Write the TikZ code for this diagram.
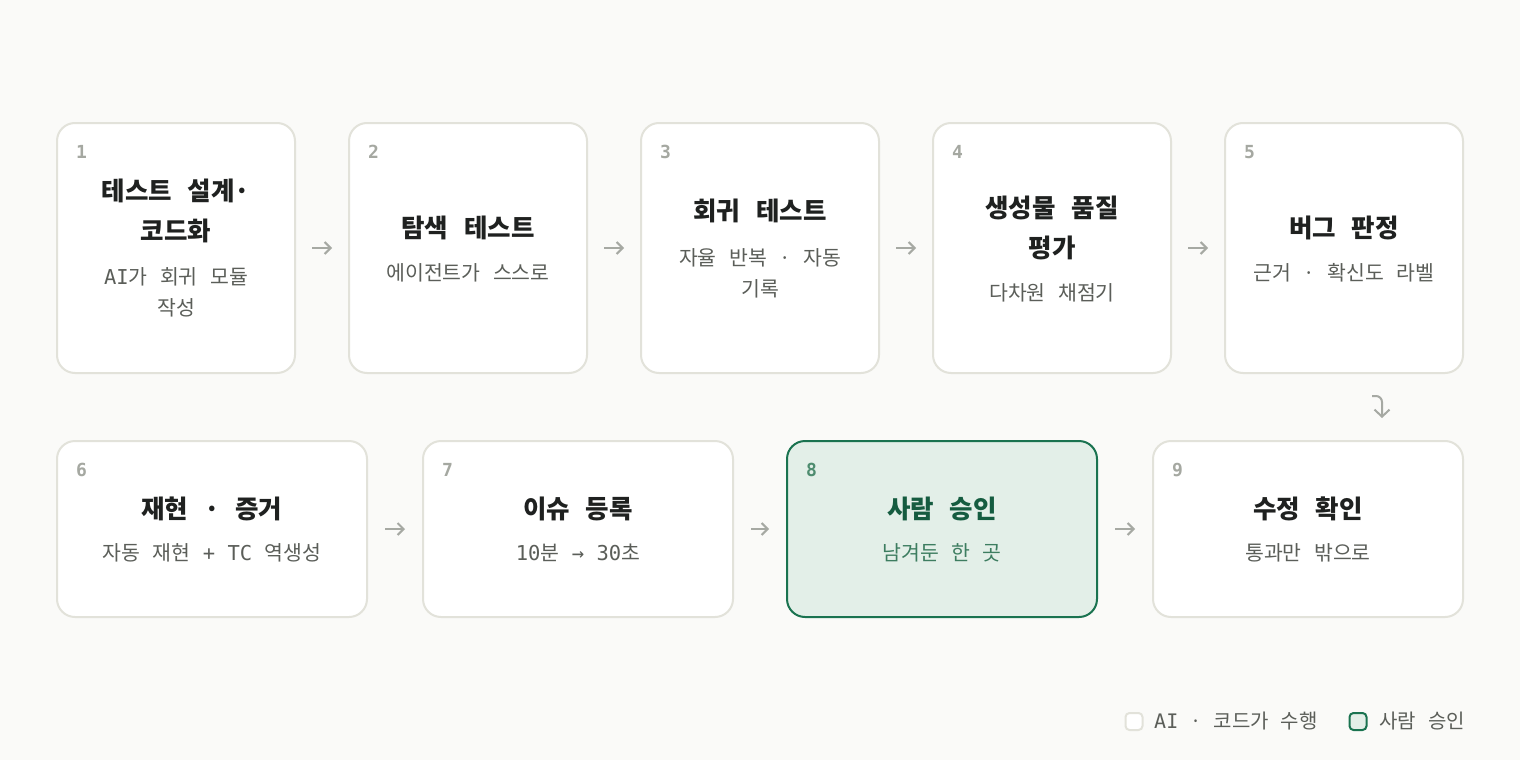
\documentclass[tikz,border=0pt]{standalone}
\usepackage{fontspec}
\setmainfont{Noto Sans CJK KR}[WordSpace=2.7]
\newfontfamily\mono{DejaVu Sans Mono}
\usetikzlibrary{arrows.meta}
\definecolor{cbg}{HTML}{FAFAF8}
\definecolor{cborder}{HTML}{E2E2DA}
\definecolor{ctitle}{HTML}{1F2120}
\definecolor{csub}{HTML}{5B5E59}
\definecolor{cnum}{HTML}{A5A8A1}
\definecolor{carrow}{HTML}{A6A9A3}
\definecolor{gborder}{HTML}{1A7350}
\definecolor{gfill}{HTML}{E3EFE8}
\definecolor{gtitle}{HTML}{155C40}
\definecolor{gsub}{HTML}{3D7D60}
\definecolor{gnum}{HTML}{4E8C6F}
\tikzset{
  box/.style={draw=cborder, line width=2pt, fill=white, rounded corners=18pt, inner sep=0pt},
  boxA/.style={box, minimum width=238pt, minimum height=250pt},
  boxB/.style={box, minimum width=310pt, minimum height=176pt},
  human/.style={draw=gborder, fill=gfill},
  ttl/.style={font=\fontsize{25.5}{30}\selectfont\bfseries, text=ctitle, anchor=base, inner sep=0pt},
  sub/.style={font=\fontsize{20.5}{24}\selectfont, text=csub, anchor=base, inner sep=0pt},
  num/.style={font=\mono\bfseries\fontsize{18}{22}\selectfont, text=cnum, anchor=base west, inner sep=0pt},
  flow/.style={draw=carrow, line width=2pt, -{Straight Barb[length=6pt,width=12pt]}},
  legsq/.style={draw=cborder, line width=2pt, fill=white, rounded corners=4pt, minimum width=17pt, minimum height=17pt, inner sep=0pt},
  legtxt/.style={font=\fontsize{20}{24}\selectfont, text=csub, anchor=base west, inner sep=0pt}
}
\begin{document}
\begin{tikzpicture}[x=1pt, y=-1pt]
\useasboundingbox[fill=cbg] (0,0) rectangle (1520,760);

% row 1 boxes
\node[boxA] (b1) at (176,248) {};
\node[boxA] (b2) at (468,248) {};
\node[boxA] (b3) at (760,248) {};
\node[boxA] (b4) at (1052,248) {};
\node[boxA] (b5) at (1344,248) {};
% row 2 boxes
\node[boxB] (b6) at (212,529) {};
\node[boxB] (b7) at (578,529) {};
\node[boxB, human] (b8) at (942,529) {};
\node[boxB] (b9) at (1308,529) {};

% numbers
\node[num] (n1) at (76,158) {1};
\node[num] (n2) at (368,158) {2};
\node[num] (n3) at (660,158) {3};
\node[num] (n4) at (952,158) {4};
\node[num] (n5) at (1244,158) {5};
\node[num] (n6) at (76,476) {6};
\node[num] (n7) at (442,476) {7};
\node[num, text=gnum] (n8) at (806,476) {8};
\node[num] (n9) at (1172,476) {9};

% box 1
\node[ttl] (t1a) at (176,200) {테스트 설계·};
\node[ttl] (t1b) at (176,240) {코드화};
\node[sub] (s1a) at (176,284) {{\mono AI}가 회귀 모듈};
\node[sub] (s1b) at (176,315) {작성};
% box 2
\node[ttl] (t2) at (468,237) {탐색 테스트};
\node[sub] (s2) at (468,280) {에이전트가 스스로};
% box 3
\node[ttl] (t3) at (760,220) {회귀 테스트};
\node[sub] (s3a) at (760,265) {자율 반복 · 자동};
\node[sub] (s3b) at (760,296) {기록};
% box 4
\node[ttl] (t4a) at (1052,217) {생성물 품질};
\node[ttl] (t4b) at (1052,257) {평가};
\node[sub] (s4) at (1052,300) {다차원 채점기};
% box 5
\node[ttl] (t5) at (1344,237) {버그 판정};
\node[sub] (s5) at (1344,280) {근거 · 확신도 라벨};
% box 6
\node[ttl] (t6) at (212,518) {재현 · 증거};
\node[sub] (s6) at (212,560) {자동 재현 {\mono +} {\mono TC} 역생성};
% box 7
\node[ttl] (t7) at (578,518) {이슈 등록};
\node[sub] (s7) at (578,560) {{\mono 10}분 {\mono →} {\mono 30}초};
% box 8
\node[ttl, text=gtitle] (t8) at (942,518) {사람 승인};
\node[sub, text=gsub] (s8) at (942,560) {남겨둔 한 곳};
% box 9
\node[ttl] (t9) at (1308,518) {수정 확인};
\node[sub] (s9) at (1308,560) {통과만 밖으로};

% connectors row 1
\draw[flow, shorten <=16pt, shorten >=16pt] (b1.east) -- (b2.west);
\draw[flow, shorten <=16pt, shorten >=16pt] (b2.east) -- (b3.west);
\draw[flow, shorten <=16pt, shorten >=16pt] (b3.east) -- (b4.west);
\draw[flow, shorten <=16pt, shorten >=16pt] (b4.east) -- (b5.west);
% turn down
\coordinate (hk) at (1372,396);
\coordinate (hkend) at (1382,418);
\draw[flow, -{Straight Barb[length=7pt,width=15pt]}] (hk) -- ++(4,0) arc[start angle=-90, end angle=0, radius=6] -- (hkend);
% connectors row 2
\draw[flow, shorten <=17pt, shorten >=17pt] (b6.east) -- (b7.west);
\draw[flow, shorten <=17pt, shorten >=17pt] (b7.east) -- (b8.west);
\draw[flow, shorten <=17pt, shorten >=17pt] (b8.east) -- (b9.west);

% legend
\node[legsq] (l1) at (1134,721.5) {};
\node[legtxt] (lt1) at (1154,728) {{\mono AI} · 코드가 수행};
\node[legsq, human] (l2) at (1358,721.5) {};
\node[legtxt] (lt2) at (1379,728) {사람 승인};
\end{tikzpicture}
\end{document}
